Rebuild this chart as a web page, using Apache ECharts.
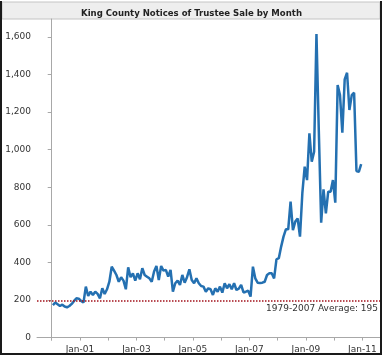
<!DOCTYPE html>
<html><head><meta charset="utf-8">
<script src="https://cdn.jsdelivr.net/npm/echarts@6/dist/echarts.min.js"></script>
<style>html,body{margin:0;padding:0;background:#fff}#c{width:383px;height:356px}</style>
</head><body><div id="c"></div>
<script>
const titleText = 'King County Notices of Trustee Sale by Month';
// monthly notices, Jan 2000 .. Dec 2010
const monthlyNotices = [
  173, 186, 177, 168, 175, 165, 161, 168, 179, 195, 209, 207,
  195, 186, 271, 221, 244, 227, 244, 232, 209, 262, 232, 257,
  297, 377, 356, 333, 297, 321, 303, 257, 374, 321, 342, 303,
  342, 310, 369, 333, 324, 315, 297, 351, 381, 306, 381, 356,
  360, 324, 360, 244, 289, 303, 280, 333, 292, 321, 363, 306,
  289, 315, 289, 274, 271, 244, 262, 257, 227, 262, 244, 271,
  239, 289, 262, 284, 257, 289, 253, 260, 280, 240, 244, 249,
  218, 377, 315, 292, 290, 292, 297, 333, 342, 342, 315, 416,
  422, 484, 537, 576, 576, 723, 572, 617, 634, 537, 768, 909,
  838, 1087, 936, 989, 1615, 1100, 611, 789, 661, 776, 776, 838,
  718, 1344, 1290, 1090, 1374, 1409, 1211, 1290, 1303, 886, 882, 923
];
const tickMonths = [0, 12, 24, 36, 48, 60, 72, 84, 96, 108, 120, 132];
const labelMonths = [12, 36, 60, 84, 108, 132];
const labelNames = ['Jan-01', 'Jan-03', 'Jan-05', 'Jan-07', 'Jan-09', 'Jan-11'];
const yTicks = [0, 200, 400, 600, 800, 1000, 1200, 1400, 1600];
const averageValue = 195;
const averageLabel = '1979-2007 Average: 195';

const chart = echarts.init(document.getElementById('c'), null, {renderer: 'canvas'});
const font = 'DejaVu Sans';
chart.setOption({
  animation: false,
  backgroundColor: '#ffffff',
  title: {
    text: titleText, left: 'center', top: 4,
    textStyle: {fontFamily: '"DejaVu Sans Condensed", "DejaVu Sans"', fontSize: 9.5, fontWeight: 'bold', color: '#222'}
  },
  grid: {left: 37, right: 3, top: 19, bottom: 16, containLabel: false},
  xAxis: {
    type: 'value', min: -6.25, max: 139.5,
    splitLine: {show: false},
    axisLine: {show: true, lineStyle: {color: '#a8a8a8'}},
    axisTick: {show: true, length: 3, customValues: tickMonths, lineStyle: {color: '#a8a8a8'}},
    axisLabel: {
      customValues: labelMonths, margin: 5, fontFamily: font, fontSize: 9, color: '#333',
      formatter: v => labelNames[labelMonths.indexOf(v)] || ''
    }
  },
  yAxis: {
    type: 'value', min: -13, max: 1695,
    splitLine: {show: false},
    axisLine: {show: true, lineStyle: {color: '#a8a8a8'}},
    axisTick: {show: true, length: 4, customValues: yTicks, lineStyle: {color: '#a8a8a8'}},
    axisLabel: {
      customValues: yTicks, margin: 6, fontFamily: font, fontSize: 9, color: '#333',
      formatter: v => v.toLocaleString('en-US')
    }
  },
  series: [{
    type: 'line',
    data: monthlyNotices.map((v, i) => [i + 0.5, v]),
    showSymbol: false,
    clip: false,
    lineStyle: {color: '#2470b1', width: 2.5},
    markLine: {
      silent: true, symbol: 'none',
      lineStyle: {type: 'dotted', color: '#a3121b', width: 1.5},
      label: {position: 'insideEndBottom', formatter: averageLabel, fontFamily: font, fontSize: 9, color: '#333', distance: [2, 3]},
      data: [{yAxis: averageValue}]
    }
  }],
  graphic: [
    {type: 'rect', z: -1, shape: {x: 2, y: 2, width: 378, height: 17}, style: {fill: '#eeeeee', stroke: '#c4c4c4', lineWidth: 1}},
    {type: 'polyline', z: 10, shape: {points: [[1, 1], [1, 354], [381, 354], [381, 1]]}, style: {stroke: '#1a1a1a', lineWidth: 2, fill: null}}
  ]
});
</script></body></html>
